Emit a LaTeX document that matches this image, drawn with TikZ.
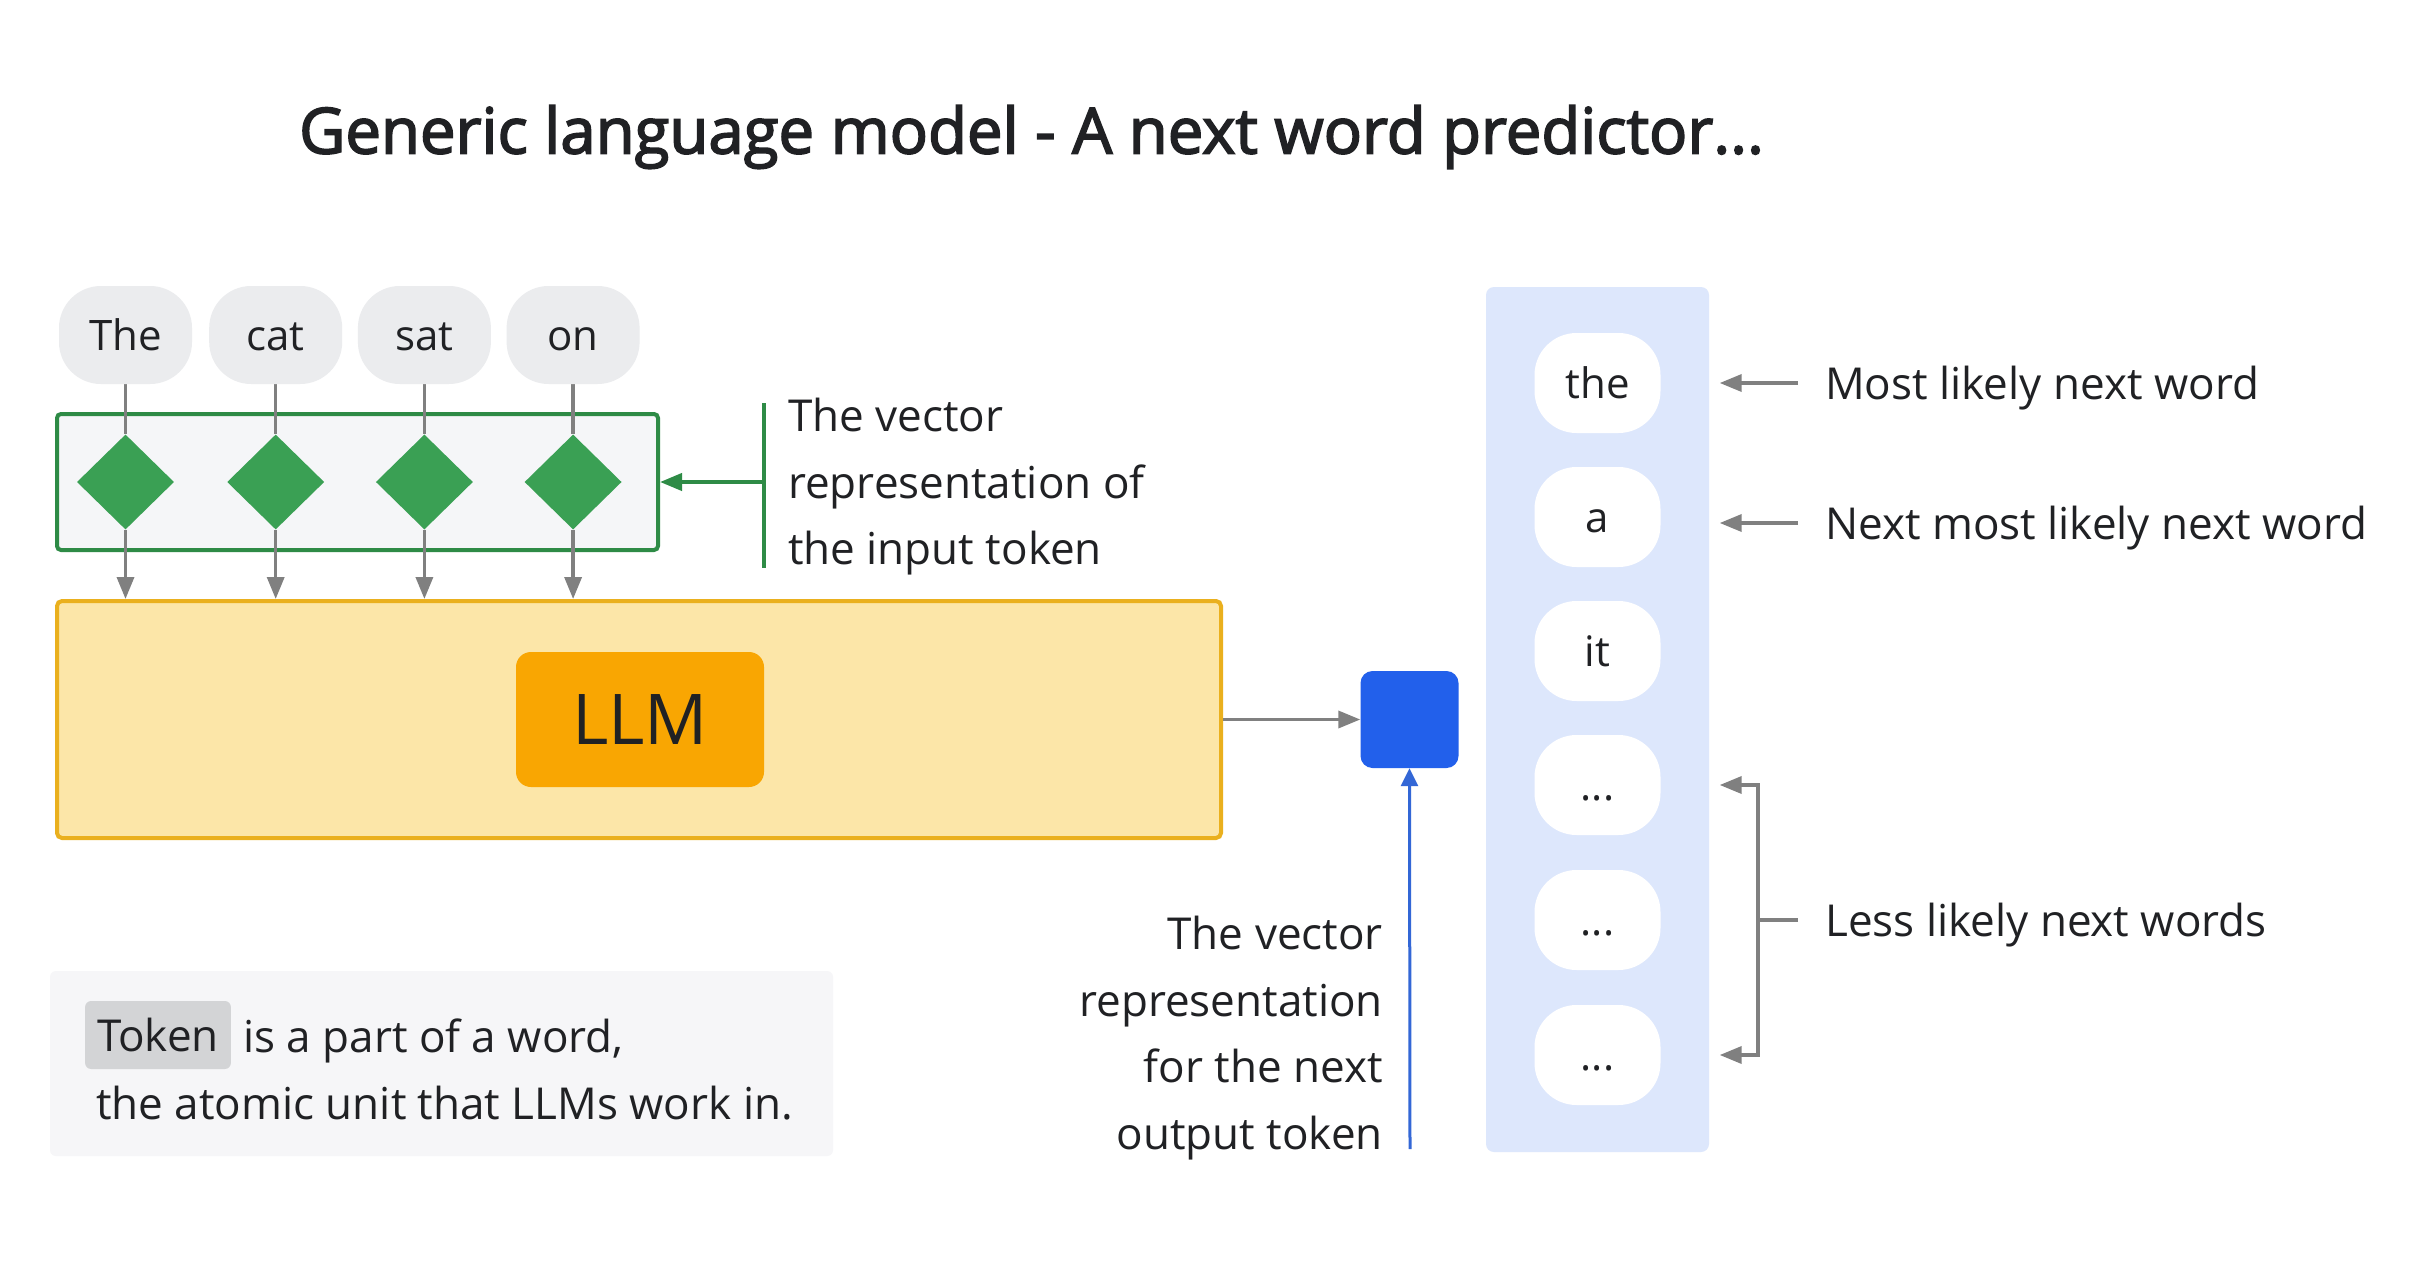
\documentclass[tikz,border=0pt]{standalone}
\usepackage{fontspec}
\setmainfont{Open Sans}
\newfontfamily\titlefont[FakeBold=2.6]{Open Sans}
\usetikzlibrary{arrows.meta,shapes.geometric}
\definecolor{txt}{RGB}{32,33,36}
\definecolor{tokgray}{RGB}{235,236,238}
\definecolor{boxgreen}{RGB}{46,139,70}
\definecolor{diagreen}{RGB}{58,160,84}
\definecolor{embfill}{RGB}{245,246,248}
\definecolor{arrowgray}{RGB}{128,128,128}
\definecolor{llmfill}{RGB}{252,230,168}
\definecolor{llmborder}{RGB}{234,176,30}
\definecolor{llmcore}{RGB}{249,166,2}
\definecolor{vecblue}{RGB}{34,96,235}
\definecolor{lineblue}{RGB}{51,103,214}
\definecolor{colblue}{RGB}{221,231,252}
\definecolor{notefill}{RGB}{246,246,248}
\definecolor{hlgray}{RGB}{211,212,214}
\pgfdeclarelayer{back}
\pgfdeclarelayer{mid}
\pgfsetlayers{back,mid,main}
\begin{document}
\begin{tikzpicture}[x=1pt,y=-1pt,
  lbl/.style={inner sep=0pt, text=txt, font=\fontsize{44}{66.5}\selectfont},
  tok/.style={rectangle, rounded corners=42pt, minimum width=133pt, minimum height=98pt,
    fill=tokgray, text=txt, font=\fontsize{42}{50}\selectfont, inner sep=0pt,
    text height=31pt, text depth=0pt},
  cand/.style={rectangle, rounded corners=42pt, minimum width=126pt, minimum height=100pt,
    fill=white, text=txt, font=\fontsize{42}{50}\selectfont, inner sep=0pt,
    text height=31pt, text depth=0pt},
  dia/.style={diamond, fill=diagreen, minimum width=97pt, minimum height=95pt, inner sep=0pt},
  gline/.style={draw=arrowgray, line width=3.5pt},
  garrow/.style={gline, -{Triangle[length=22pt,width=17pt]}},
  greenline/.style={draw=boxgreen, line width=4pt},
  greenarrow/.style={greenline, -{Triangle[length=22pt,width=17pt]}},
  bluearrow/.style={draw=lineblue, line width=3pt, -{Triangle[length=18pt,width=17pt]}}
]
\useasboundingbox (0,0) rectangle (2429,1263);

% title
\node[lbl, font=\fontsize{63.5}{72}\titlefont] (title) at (1031.5,137) {Generic language model - A next word predictor...};

% containers
\begin{pgfonlayer}{back}
  \fill[white] (0,0) rectangle (2429,1263);
  \node[draw=boxgreen, line width=4pt, fill=embfill, rounded corners=4pt,
        minimum width=601pt, minimum height=136pt, inner sep=0pt] (emb) at (357.5,482) {};
  \node[draw=llmborder, line width=4pt, fill=llmfill, rounded corners=5pt,
        minimum width=1164pt, minimum height=237pt, inner sep=0pt] (llmbox) at (639,719.5) {};
  \node[fill=colblue, rounded corners=8pt, minimum width=223pt, minimum height=865pt,
        inner sep=0pt] (col) at (1597.5,719.5) {};
  \node[fill=notefill, rounded corners=6pt, minimum width=783pt, minimum height=185pt,
        inner sep=0pt] (note) at (441.5,1063.5) {};
\end{pgfonlayer}

% input tokens
\node[tok] (t1) at (125.5,335) {The};
\node[tok] (t2) at (275.7,335) {cat};
\node[tok] (t3) at (424.4,335) {sat};
\node[tok] (t4) at (573.1,335) {on};

% embeddings
\node[dia] (d1) at (125.5,482) {};
\node[dia] (d2) at (275.7,482) {};
\node[dia] (d3) at (424.4,482) {};
\node[dia] (d4) at (573.1,482) {};

\begin{pgfonlayer}{mid}
  \foreach \i in {1,2,3,4}{
    \draw[gline] (t\i.south) -- (d\i.north);
    \draw[garrow] (d\i.south) -- (d\i |- llmbox.north);
  }
\end{pgfonlayer}

% embedding label
\coordinate (gbt) at (764,403);
\coordinate (gbb) at (764,568);
\coordinate (gbm) at (764,482);
\draw[greenline] (gbt) -- (gbb);
\draw[greenarrow] (gbm) -- (emb.east);
\node[lbl, anchor=west, align=left] (emblbl) at (788,487) {The vector\\representation of\\the input token};

% LLM
\node[fill=llmcore, rounded corners=15pt, minimum width=248pt, minimum height=135pt,
      text=txt, font=\fontsize{70}{80}\selectfont, inner sep=0pt] (llm) at (640,719.5) {LLM};

% output vector
\node[fill=vecblue, rounded corners=12pt, minimum width=98pt, minimum height=97pt, inner sep=0pt] (vec) at (1409.5,719.5) {};
\draw[garrow] (llmbox.east) -- (vec.west);
\coordinate (bstart) at (1410,1149);
\draw[bluearrow] (bstart) -- (vec.south);
\node[lbl, anchor=east, align=right] (veclbl) at (1383,1038) {The vector\\representation\\for the next\\output token};

% candidates
\node[cand] (c1) at (1597.5,383) {the};
\node[cand] (c2) at (1597.5,517) {a};
\node[cand] (c3) at (1597.5,651) {it};
\node[cand] (c4) at (1597.5,785) {...};
\node[cand] (c5) at (1597.5,920) {...};
\node[cand] (c6) at (1597.5,1055) {...};

% right labels
\node[lbl, anchor=west] (r1) at (1825,388) {Most likely next word};
\node[lbl, anchor=west] (r2) at (1825,528) {Next most likely next word};
\node[lbl, anchor=west] (r3) at (1825,925) {Less likely next words};
\draw[garrow] ([xshift=-27pt]r1.west |- c1.east) -- ([xshift=59pt]c1.east);
\draw[garrow] ([xshift=-27pt]r2.west |- 0,523) -- ([xshift=59pt]c2.east |- 0,523);
\coordinate (br) at (1758,920);
\draw[gline] ([xshift=-27pt]r3.west |- br) -- (br);
\draw[garrow] (br) |- ([xshift=59pt]c4.east);
\draw[garrow] (br) |- ([xshift=59pt]c6.east);

% note
\node[fill=hlgray, rounded corners=6pt, minimum height=68pt, inner xsep=12pt, inner ysep=0pt,
      text=txt, font=\fontsize{44}{66.5}\selectfont] (tokw) at (158,1035) {Token};
\node[lbl, anchor=west] (n1) at ([xshift=12pt,yshift=-6pt]tokw.east) {is a part of a word,};
\node[lbl, anchor=west] (n2) at (96,1103) {the atomic unit that LLMs work in.};
\end{tikzpicture}
\end{document}
